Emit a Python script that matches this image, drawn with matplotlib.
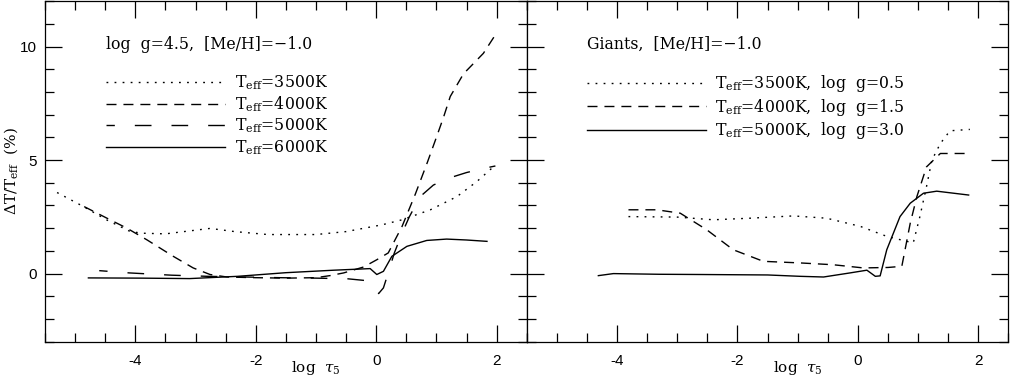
import matplotlib
matplotlib.use("Agg")
import matplotlib.pyplot as plt
from matplotlib.ticker import MultipleLocator, FuncFormatter

# ---------------- data ----------------
# Left panel: log g = 4.5, [Me/H] = -1.0
d35_x = [-5.3, -4.86, -4.48, -4.09, -3.9, -3.5, -3.1, -2.76, -2.35, -1.8, -1.0, -0.5, -0.2, 0.1, 0.43, 0.9, 1.34, 1.67, 1.95]
d35_y = [3.57, 2.95, 2.37, 1.86, 1.78, 1.75, 1.88, 1.99, 1.85, 1.72, 1.72, 1.85, 2.0, 2.15, 2.37, 2.81, 3.39, 4.05, 4.71]

d40_x = [-4.85, -4.42, -4.14, -3.81, -3.37, -3.04, -2.76, -2.48, -2.0, -1.5, -1.0, -0.77, -0.54, -0.21, 0.01, 0.2, 0.43, 0.65, 0.85, 1.0, 1.12, 1.23, 1.45, 1.78, 2.0]
d40_y = [2.95, 2.37, 2.0, 1.49, 0.76, 0.25, -0.04, -0.15, -0.18, -0.2, -0.18, -0.09, 0.03, 0.29, 0.61, 0.91, 2.08, 3.5, 4.9, 6.0, 6.9, 7.8, 8.8, 9.7, 10.6]

d50_x = [-4.6, -4.1, -3.4, -2.8, -2.2, -1.6, -1.0, -0.47, -0.2, -0.05, 0.04, 0.12, 0.2, 0.3, 0.43, 0.55, 0.73, 0.95, 1.2, 1.5, 1.78, 1.98]
d50_y = [0.13, 0.03, -0.07, -0.12, -0.15, -0.18, -0.2, -0.23, -0.3, -0.48, -0.88, -0.63, 0.03, 0.9, 1.78, 2.5, 3.39, 3.9, 4.2, 4.45, 4.63, 4.74]

d60_x = [-4.78, -3.9, -3.1, -2.3, -1.5, -0.7, -0.1, 0.01, 0.12, 0.26, 0.51, 0.84, 1.17, 1.5, 1.84]
d60_y = [-0.19, -0.2, -0.22, -0.12, 0.04, 0.15, 0.22, -0.04, 0.1, 0.76, 1.2, 1.46, 1.52, 1.48, 1.42]

# Right panel: giants, [Me/H] = -1.0
g35_x = [-3.81, -3.01, -2.4, -1.79, -1.07, -0.52, 0.04, 0.48, 0.92, 1.03, 1.14, 1.23, 1.37, 1.53, 1.86]
g35_y = [2.51, 2.49, 2.37, 2.44, 2.54, 2.44, 2.08, 1.64, 1.35, 2.51, 3.83, 5.0, 5.73, 6.29, 6.35]

g40_x = [-3.81, -3.34, -2.95, -2.51, -2.07, -1.57, -0.96, -0.41, 0.09, 0.5, 0.73, 0.87, 0.98, 1.14, 1.37, 1.78]
g40_y = [2.81, 2.81, 2.66, 1.93, 1.05, 0.54, 0.47, 0.39, 0.25, 0.27, 0.32, 2.22, 3.39, 4.7, 5.29, 5.29]

g50_x = [-4.31, -4.06, -3.3, -2.62, -1.5, -0.96, -0.57, -0.13, 0.15, 0.29, 0.37, 0.48, 0.59, 0.7, 0.87, 1.09, 1.31, 1.84]
g50_y = [-0.09, 0.0, -0.03, -0.04, -0.06, -0.12, -0.15, 0.03, 0.15, -0.12, -0.1, 1.05, 1.78, 2.51, 3.1, 3.54, 3.63, 3.46]

left_title = "log  g=4.5,  [Me/H]=\u22121.0"
right_title = "Giants,  [Me/H]=\u22121.0"
left_labels = [r"T$_{\rm eff}$=3500K", r"T$_{\rm eff}$=4000K", r"T$_{\rm eff}$=5000K", r"T$_{\rm eff}$=6000K"]
right_labels = [r"T$_{\rm eff}$=3500K,  log  g=0.5", r"T$_{\rm eff}$=4000K,  log  g=1.5", r"T$_{\rm eff}$=5000K,  log  g=3.0"]
xlabel = r"log  $\tau_5$"
ylabel = r"$\Delta$T/T$_{\rm eff}$  (%)"

# ---------------- style ----------------
plt.rcParams["lines.scale_dashes"] = False
plt.rcParams["mathtext.fontset"] = "custom"
plt.rcParams["mathtext.rm"] = "DejaVu Serif"
plt.rcParams["mathtext.it"] = "DejaVu Serif:italic"
plt.rcParams["mathtext.bf"] = "DejaVu Serif:bold"

SERIF = "DejaVu Serif"
SANS = "Liberation Sans"
LW = 1.0
FS = 11.3
DOT = (0, (1.3, 4.5))
SDASH = (0, (7.2, 5.0))
LDASH = (6, (12.0, 14.4))
SOLID = "-"

fig = plt.figure(figsize=(10.10, 3.78), dpi=100)
left, bottom, width, height = 0.0446, 0.096, 0.4769, 0.901
ax1 = fig.add_axes([left, bottom, width, height])
ax2 = fig.add_axes([left + width, bottom, width, height])

int_fmt = FuncFormatter(lambda v, p: "%d" % round(v))

for ax in (ax1, ax2):
    ax.set_xlim(-5.5, 2.5)
    ax.set_ylim(-3, 12)
    ax.xaxis.set_major_locator(MultipleLocator(2))
    ax.xaxis.set_minor_locator(MultipleLocator(0.5))
    ax.yaxis.set_major_locator(MultipleLocator(5))
    ax.yaxis.set_minor_locator(MultipleLocator(1))
    ax.xaxis.set_major_formatter(int_fmt)
    ax.yaxis.set_major_formatter(int_fmt)
    ax.tick_params(which="both", direction="in", top=True, right=True, width=0.9)
    ax.tick_params(which="major", length=12.2)
    ax.tick_params(which="minor", length=6.2)
    ax.tick_params(axis="x", which="major", pad=9, labelsize=11)
    ax.tick_params(axis="y", which="major", pad=6, labelsize=11)
    for s in ax.spines.values():
        s.set_linewidth(0.9)
    ax.set_xlabel(xlabel, fontfamily=SERIF, fontsize=11)
    ax.xaxis.set_label_coords(0.563, -0.05)

ax2.tick_params(axis="y", labelleft=False)

ax1.set_ylabel(ylabel, fontfamily=SERIF, fontsize=11)
ax1.yaxis.set_label_coords(-0.052, 0.5)

# left panel curves
h1 = ax1.plot(d35_x, d35_y, color="black", lw=LW, ls=DOT)[0]
h2 = ax1.plot(d40_x, d40_y, color="black", lw=LW, ls=SDASH)[0]
h3 = ax1.plot(d50_x, d50_y, color="black", lw=LW, ls=LDASH)[0]
h4 = ax1.plot(d60_x, d60_y, color="black", lw=LW, ls=SOLID)[0]

# right panel curves
k1 = ax2.plot(g35_x, g35_y, color="black", lw=LW, ls=DOT)[0]
k2 = ax2.plot(g40_x, g40_y, color="black", lw=LW, ls=SDASH)[0]
k3 = ax2.plot(g50_x, g50_y, color="black", lw=LW, ls=SOLID)[0]

ax1.text(0.127, 0.874, left_title, transform=ax1.transAxes, fontfamily=SERIF,
         fontsize=FS, ha="left", va="center")
ax2.text(0.125, 0.874, right_title, transform=ax2.transAxes, fontfamily=SERIF,
         fontsize=FS, ha="left", va="center")

leg_kw = dict(frameon=False, loc="upper left", handlelength=7.6, handletextpad=0.58,
              labelspacing=0.17, borderpad=0, borderaxespad=0,
              prop={"family": SERIF, "size": FS})
ax1.legend([h1, h2, h3, h4], left_labels, bbox_to_anchor=(0.127, 0.789), **leg_kw)
ax2.legend([k1, k2, k3], right_labels, bbox_to_anchor=(0.125, 0.789), **leg_kw)

for ax in (ax1, ax2):
    for lab in ax.get_xticklabels() + ax.get_yticklabels():
        lab.set_fontfamily(SANS)

fig.savefig("out.png", dpi=100)
